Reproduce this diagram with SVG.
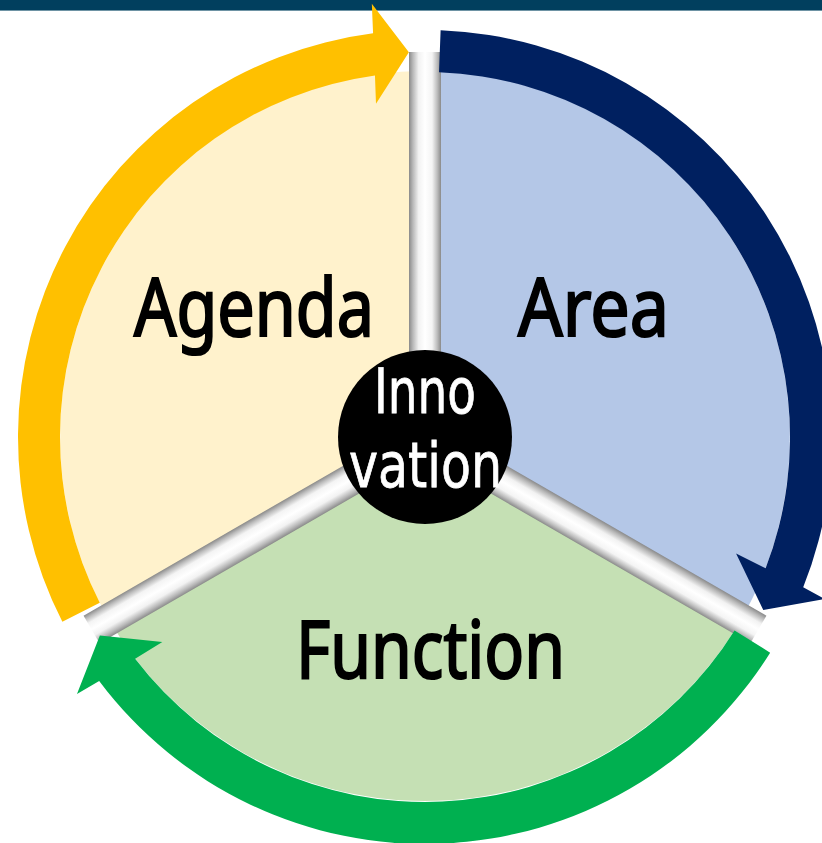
<svg xmlns="http://www.w3.org/2000/svg" width="822" height="843" viewBox="0 0 822 843">
  <style>
    .lbl { font-family: "Noto Sans", "Open Sans", "Liberation Sans", sans-serif; font-size: 80px; fill: #000000; stroke: #000000; stroke-width: 2.2px; }
    .core { font-family: "DejaVu Sans", "Liberation Sans", sans-serif; font-size: 62px; fill: #ffffff; stroke: #ffffff; stroke-width: 0.8px; }
    .gap { fill: url(#gapGrad); }
  </style>
  <defs>
    <linearGradient id="gapGrad" x1="0" y1="0" x2="1" y2="0">
      <stop offset="0" stop-color="#8a8a8a"/>
      <stop offset="0.12" stop-color="#b8b8b8"/>
      <stop offset="0.3" stop-color="#f2f2f2"/>
      <stop offset="0.5" stop-color="#ffffff"/>
      <stop offset="0.72" stop-color="#f4f4f4"/>
      <stop offset="0.88" stop-color="#bdbdbd"/>
      <stop offset="1" stop-color="#8a8a8a"/>
    </linearGradient>
  </defs>

  <rect x="0" y="0" width="822" height="843" fill="#ffffff"/>
  <!-- top bar -->
  <rect x="0" y="0" width="822" height="10" fill="#013F5E"/>
  <rect x="0" y="10" width="822" height="1" fill="#6E93A4"/>

  <g id="node-agenda">
    <path d="M425 437 L108.90 619.5 A366 366 0 0 1 425 71 Z" fill="#FFF2CC"/>
    <text class="lbl" x="134" y="336" textLength="240" lengthAdjust="spacingAndGlyphs">Agenda</text>
  </g>
  <g id="node-area">
    <path d="M425 437 L425 71 A366 366 0 0 1 741.10 619.5 Z" fill="#B4C7E7"/>
    <text class="lbl" x="518" y="336" textLength="151" lengthAdjust="spacingAndGlyphs">Area</text>
  </g>
  <g id="node-function">
    <path d="M425 437 L741.10 619.5 A366 366 0 0 1 108.90 619.5 Z" fill="#C5E0B4"/>
    <text class="lbl" x="296" y="678" textLength="269" lengthAdjust="spacingAndGlyphs">Function</text>
  </g>

  <g id="separators">
    <rect class="gap" x="-16" y="-385" width="32" height="385" transform="translate(425 437) rotate(0)"/>
    <rect class="gap" x="-16" y="-385" width="32" height="385" transform="translate(425 437) rotate(120)"/>
    <rect class="gap" x="-16" y="-385" width="32" height="385" transform="translate(425 437) rotate(240)"/>
  </g>

  <g id="connectors">
    <path id="arrow-agenda-area" fill="#FFC000" d="M62.36 621.77 A407 407 0 0 1 373.07 33.33 L371.82 3.85 L408.88 52.34 L376.00 103.77 L374.96 75.45 A365 365 0 0 0 99.78 602.71 Z"/>
    <path id="arrow-area-function" fill="#002060" d="M440.62 30.30 A407 407 0 0 1 803.20 587.37 L825.10 599.06 L763.28 610.11 L736.08 553.50 L765.61 568.22 A365 365 0 0 0 439.01 72.27 Z"/>
    <path id="arrow-function-agenda" fill="#00B050" d="M770.16 652.68 A407 407 0 0 1 99.18 680.91 L76.98 693.98 L99.85 635.50 L162.32 641.88 L135.14 658.82 A365 365 0 0 0 734.54 630.42 Z"/>
  </g>

  <g id="node-innovation">
    <circle cx="425" cy="437" r="87" fill="#000000"/>
    <text class="core" x="374" y="413" textLength="102" lengthAdjust="spacingAndGlyphs">Inno</text>
    <text class="core" x="349" y="487" textLength="153" lengthAdjust="spacingAndGlyphs">vation</text>
  </g>
</svg>
